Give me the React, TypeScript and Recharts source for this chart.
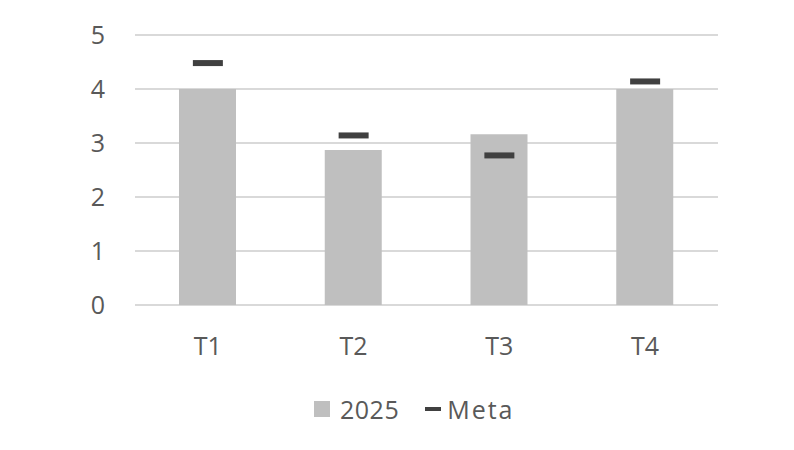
import React from 'react';
import { ComposedChart, Bar, Line, XAxis, YAxis, CartesianGrid } from 'recharts';

const categories = ['T1', 'T2', 'T3', 'T4'];
const values2025 = [4, 2.87, 3.16, 4];
const metaValues = [4.48, 3.14, 2.77, 4.14];
const yTicks = [0, 1, 2, 3, 4, 5];
const seriesNames = ['2025', 'Meta'];

const data = categories.map((name, i) => ({
  name,
  v2025: values2025[i],
  meta: metaValues[i],
}));

const FONT = '"Open Sans", "Noto Sans", sans-serif';
const TEXT = '#595959';

const MetaMark = (props: any) => {
  const { cx, cy } = props;
  if (cx == null || cy == null) return null;
  return <rect x={cx - 15} y={cy - 3} width={30} height={6} fill="#404040" />;
};

const App: React.FC = () => {
  return (
    <div style={{ position: 'absolute', top: 0, left: 0, width: 794, height: 450, background: '#fff' }}>
      <ComposedChart
        width={794}
        height={450}
        data={data}
        margin={{ top: 35, right: 76, bottom: 115, left: 0 }}
      >
        <CartesianGrid vertical={false} stroke="#d9d9d9" strokeWidth={2} />
        <XAxis
          dataKey="name"
          axisLine={false}
          tickLine={false}
          tickSize={0}
          tickMargin={32}
          height={30}
          tick={{ fill: TEXT, fontSize: 25, fontFamily: FONT }}
        />
        <YAxis
          domain={[0, 5]}
          ticks={yTicks}
          axisLine={false}
          tickLine={false}
          tickSize={0}
          tickMargin={30}
          width={135}
          tick={{ fill: TEXT, fontSize: 25, fontFamily: FONT }}
        />
        <Bar dataKey="v2025" name={seriesNames[0]} fill="#bfbfbf" barSize={57} isAnimationActive={false} />
        <Line
          dataKey="meta"
          name={seriesNames[1]}
          stroke="none"
          dot={<MetaMark />}
          activeDot={false}
          isAnimationActive={false}
        />
      </ComposedChart>
      <div
        style={{
          position: 'absolute',
          top: 392,
          left: 314,
          display: 'flex',
          alignItems: 'center',
          fontFamily: FONT,
          fontSize: 25,
          color: TEXT,
        }}
      >
        <span style={{ display: 'inline-block', width: 16, height: 16, background: '#bfbfbf', marginRight: 10 }} />
        <span style={{ letterSpacing: 0.5 }}>{seriesNames[0]}</span>
        <span style={{ display: 'inline-block', width: 16, height: 4, background: '#404040', marginLeft: 26, marginRight: 6 }} />
        <span style={{ letterSpacing: 2 }}>{seriesNames[1]}</span>
      </div>
    </div>
  );
};

export default App;
